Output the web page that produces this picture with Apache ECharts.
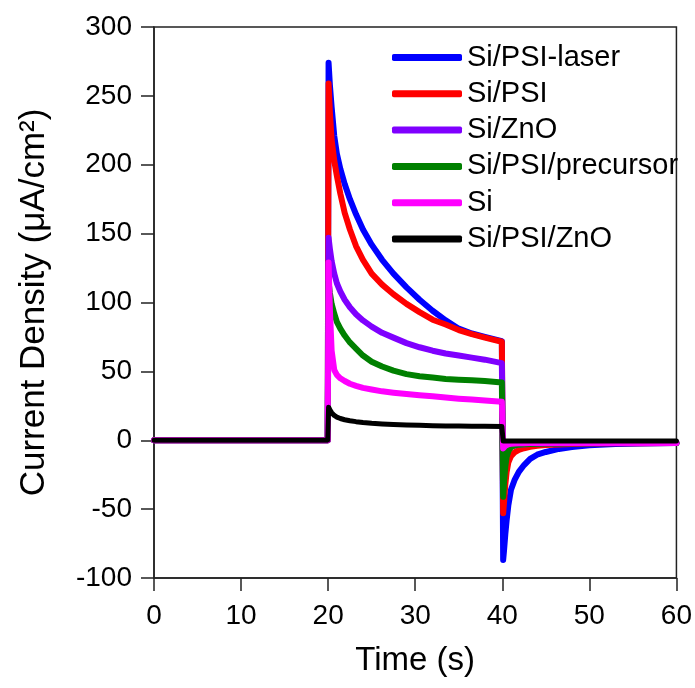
<!DOCTYPE html>
<html>
<head>
<meta charset="utf-8">
<script src="https://cdn.jsdelivr.net/npm/echarts@6/dist/echarts.min.js"></script>
<style>
  html, body { margin: 0; padding: 0; background: #fff; }
  #chart { width: 695px; height: 688px; }
</style>
</head>
<body>
<div id="chart"></div>
<script>
// dark before 20 s, light 20-40 s, dark again after 40 s
const times = [0, 19.95,
  20.05, 20.2, 20.4, 20.7, 21.0, 21.4, 21.9, 22.5, 23.2, 24.0, 25.0, 26.2, 27.5, 29.0, 30.5, 32.0, 33.5, 35.0, 36.5, 38.0, 39.95,
  40.1, 40.2, 40.35, 40.5, 40.7, 41.0, 41.4, 41.9, 42.5, 43.2, 44.0, 45.0, 46.5, 48.0, 50.0, 53.0, 56.0, 60];

const names = ['Si/PSI-laser', 'Si/PSI', 'Si/ZnO', 'Si/PSI/precursor', 'Si', 'Si/PSI/ZnO'];
const colors = ['#0000ff', '#ff0000', '#7f00ff', '#008000', '#ff00ff', '#000000'];

const siPsiLaser = [0, 0,
  274, 258, 242, 221, 208, 197, 186, 175, 164, 153, 142, 131, 121, 111, 102, 94, 87, 81, 77.5, 75, 72,
  -87, -80, -68, -58, -47, -36, -29, -23, -18, -13.5, -10.5, -8.5, -6.3, -5, -3.6, -2.8, -2.3, -2];
const siPsi = [0, 0,
  259, 238, 218, 203, 192, 179, 165, 153, 141, 131, 121, 113, 106, 99, 93, 87.5, 84, 80, 77, 74.5, 71.5,
  -53, -45, -32, -23, -16, -11.5, -8.8, -7, -5.8, -4.8, -4, -3.5, -3, -2.7, -2.4, -2.2, -2.1, -2];
const siZnO = [0, 0,
  147, 139, 130, 121, 114, 108, 102, 96.5, 91.5, 87, 82.5, 78, 74.5, 70.5, 67.5, 65, 63, 61.5, 60, 58.5, 56,
  -25, -19, -12, -8, -6, -4.5, -3.8, -3.3, -3, -2.7, -2.5, -2.4, -2.3, -2.2, -2.1, -2, -2, -2];
const siPsiPrecursor = [0, 0,
  115, 107, 99, 92, 86, 81, 76, 71, 66.5, 61.5, 57, 53.5, 50.5, 48, 46.5, 45.5, 44.5, 44, 43.5, 43, 42,
  -41, -30, -19, -12, -8, -5, -3.8, -3.2, -2.9, -2.7, -2.5, -2.4, -2.3, -2.2, -2.1, -2, -2, -2];
const si = [0, 0,
  129, 95, 65, 51, 47.5, 45, 43, 41, 39.5, 38, 36.8, 35.5, 34.5, 33.5, 32.7, 32, 31, 30.2, 29.5, 28.8, 28,
  -6, -5, -4, -3.3, -2.9, -2.6, -2.4, -2.2, -2.1, -2, -2, -2, -2, -2, -2, -2, -2, -2];
const siPsiZnO = [0, 0,
  24, 22, 20, 18, 16.8, 15.8, 14.9, 14.2, 13.5, 12.9, 12.3, 11.8, 11.4, 11, 10.8, 10.6, 10.4, 10.3, 10.2, 10.1, 10,
  -0.5, -0.5, -0.5, -0.5, -0.5, -0.5, -0.5, -0.5, -0.5, -0.5, -0.5, -0.5, -0.5, -0.5, -0.5, -0.5, -0.5, -0.5];

const values = [siPsiLaser, siPsi, siZnO, siPsiPrecursor, si, siPsiZnO];

const font = "'Liberation Sans', Arial, sans-serif";
const chart = echarts.init(document.getElementById('chart'));

const option = {
  animation: false,
  textStyle: { fontFamily: font, color: '#000' },
  grid: {
    left: 154,
    right: 16,
    top: 27,
    bottom: 110,
    show: true,
    borderColor: '#222',
    borderWidth: 1.5,
  },
  legend: {
    orient: 'vertical',
    left: 387,
    top: 38,
    icon: 'roundRect',
    itemWidth: 70,
    itemHeight: 7,
    itemGap: 7.3,
    textStyle: { fontSize: 29, lineHeight: 29, color: '#000', fontFamily: font },
    data: names,
  },
  xAxis: {
    type: 'value',
    min: 0,
    max: 60,
    interval: 10,
    name: 'Time (s)',
    nameLocation: 'middle',
    nameGap: 66,
    nameTextStyle: { fontSize: 33, color: '#000', fontFamily: font },
    axisLine: { onZero: false, lineStyle: { color: '#222', width: 1.5 } },
    axisTick: { length: 13, lineStyle: { color: '#222', width: 1.5 } },
    axisLabel: { fontSize: 28, color: '#000', margin: 24, fontFamily: font },
    splitLine: { show: false },
  },
  yAxis: {
    type: 'value',
    min: -100,
    max: 300,
    interval: 50,
    name: 'Current Density (μA/cm²)',
    nameLocation: 'middle',
    nameGap: 102,
    nameTextStyle: { fontSize: 35, color: '#000', fontFamily: font },
    axisLine: { show: true, onZero: false, lineStyle: { color: '#222', width: 1.5 } },
    axisTick: { show: true, length: 13, lineStyle: { color: '#222', width: 1.5 } },
    axisLabel: { fontSize: 28, color: '#000', margin: 22, fontFamily: font },
    splitLine: { show: false },
  },
  series: names.map((name, i) => ({
    name,
    type: 'line',
    data: times.map((t, k) => [t, values[i][k]]),
    showSymbol: false,
    symbol: 'none',
    color: colors[i],
    lineStyle: { width: i === 5 ? 5 : 6, cap: 'round', join: 'round' },
    z: 2 + i,
  })),
};

chart.setOption(option);
</script>
</body>
</html>
